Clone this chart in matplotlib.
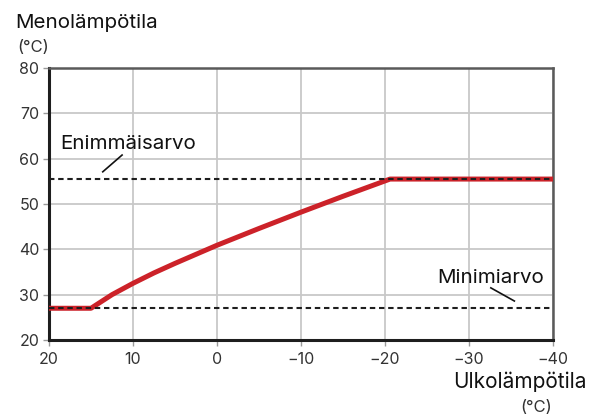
import matplotlib
matplotlib.use("Agg")
import matplotlib.pyplot as plt

# Heating curve: outdoor temperature vs. supply temperature
outdoor = [20, 15, 12.5, 10, 7.5, 5, 2.5, 0, -5, -10, -15, -20.6, -40]
supply = [27, 27, 30.0, 32.5, 34.8, 36.9, 38.9, 40.9, 44.6, 48.2, 51.7, 55.5, 55.5]

max_value = 55.5
min_value = 27.0

x_ticks = [20, 10, 0, -10, -20, -30, -40]
x_tick_labels = ["20", "10", "0", "\u221210", "\u221220", "\u221230", "\u221240"]
y_ticks = [20, 30, 40, 50, 60, 70, 80]

plt.rcParams["font.family"] = ["Inter", "DejaVu Sans"]

fig = plt.figure(figsize=(5.95, 4.17), dpi=100)
ax = fig.add_axes([49 / 595, 77 / 417, 504 / 595, 272 / 417])

ax.set_xlim(20, -40)
ax.set_ylim(20, 80)
ax.set_xticks(x_ticks)
ax.set_xticklabels(x_tick_labels)
ax.set_yticks(y_ticks)

ax.grid(True, color="#c8c8c8", linewidth=1.3)
ax.set_axisbelow(True)

for side in ("left", "bottom"):
    ax.spines[side].set_color("#1e1e1e")
    ax.spines[side].set_linewidth(2.2)
for side in ("top", "right"):
    ax.spines[side].set_color("#5a5a5a")
    ax.spines[side].set_linewidth(1.8)

ax.tick_params(axis="both", colors="#9a9a9a", labelcolor="#333333",
               labelsize=11.5, length=4, width=1)
ax.tick_params(axis="x", pad=5)
ax.tick_params(axis="y", pad=3)

# Heating curve
ax.plot(outdoor, supply, color="#cc2229", linewidth=3.6,
        solid_capstyle="butt", solid_joinstyle="round", zorder=3)

# Limit lines
ax.plot([20, -40], [max_value, max_value], color="#1e1e1e", linewidth=1.5,
        linestyle=(0, (2.6, 1.8)), zorder=4)
ax.plot([20, -40], [min_value, min_value], color="#1e1e1e", linewidth=1.5,
        linestyle=(0, (2.6, 1.8)), zorder=4)

# Labels for the limit lines
ax.text(18.7, 63.2, "Enimmäisarvo", fontsize=14.8, color="#111111",
        ha="left", va="center")
ax.plot([13.6, 11.3], [57.1, 60.8], color="#111111", linewidth=1.2)

ax.text(-26.2, 33.7, "Minimiarvo", fontsize=14.8, color="#111111",
        ha="left", va="center")
ax.plot([-32.6, -35.4], [31.5, 28.6], color="#111111", linewidth=1.2)

# Axis titles
fig.text(15 / 595, 1 - 23 / 417, "Menolämpötila", fontsize=14.8,
         color="#111111", ha="left", va="center")
fig.text(17 / 595, 1 - 47 / 417, "(°C)", fontsize=12, color="#333333",
         ha="left", va="center")
fig.text(587 / 595, 1 - 382 / 417, "Ulkolämpötila", fontsize=15,
         color="#111111", ha="right", va="center")
fig.text(552 / 595, 1 - 408 / 417, "(°C)", fontsize=12, color="#333333",
         ha="right", va="center")

fig.savefig("out.png", dpi=100, facecolor="white")
